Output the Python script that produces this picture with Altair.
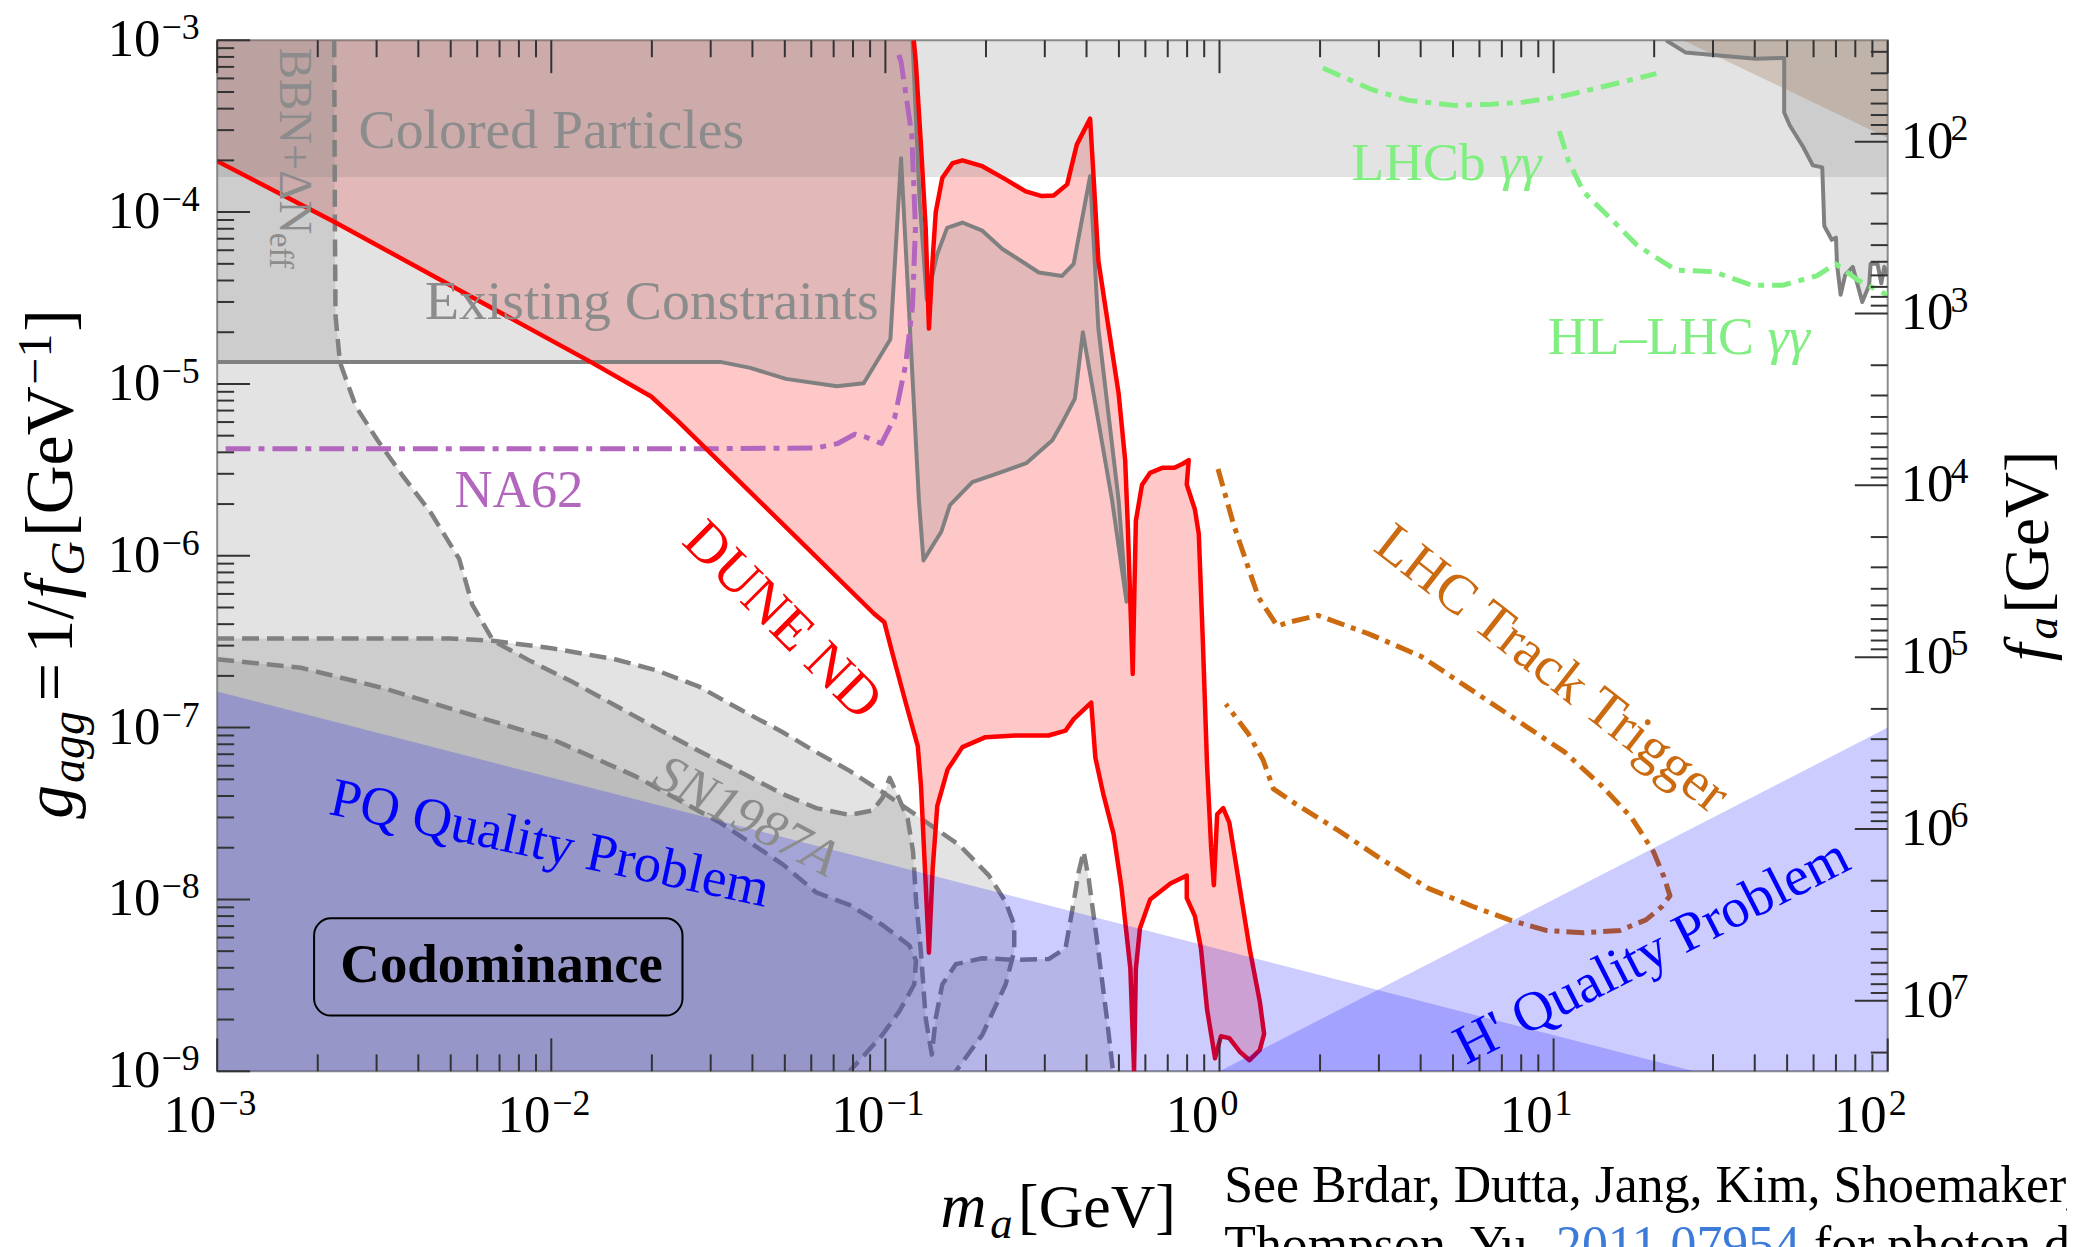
import altair as alt
import pandas as pd

FONT = "Liberation Serif"
W, H = 1677, 1035
PAD = {"left": 210, "top": 30, "right": 180, "bottom": 174}

# ---------------- data (m_a [GeV], g_agg [GeV^-1]) ----------------
DUNE_ND = [
    (0.1216, 1.0e-3), (0.1233, 7.5e-4), (0.1277, 2.5e-4), (0.132, 8.1e-5), (0.135, 2.1e-5),
    (0.1384, 5.2e-5), (0.1415, 1.0e-4), (0.148, 1.58e-4), (0.159, 1.93e-4), (0.170, 2.0e-4),
    (0.195, 1.85e-4), (0.229, 1.55e-4), (0.263, 1.32e-4), (0.294, 1.24e-4), (0.319, 1.25e-4),
    (0.35, 1.45e-4), (0.374, 2.47e-4), (0.41, 3.5e-4), (0.42, 1.58e-4), (0.434, 5.2e-5),
    (0.466, 2.1e-5), (0.499, 8.8e-6), (0.522, 3.6e-6), (0.531, 1.58e-6), (0.541, 5.3e-7),
    (0.55, 2.05e-7), (0.556, 6.0e-7), (0.562, 1.6e-6), (0.586, 2.58e-6), (0.62, 3.04e-6),
    (0.674, 3.25e-6), (0.733, 3.25e-6), (0.776, 3.43e-6), (0.809, 3.6e-6), (0.798, 2.6e-6),
    (0.844, 1.86e-6), (0.867, 1.34e-6), (0.892, 3.1e-7), (0.918, 6.0e-8), (0.944, 2.0e-8),
    (0.962, 1.21e-8), (0.984, 3.13e-8), (1.026, 3.4e-8), (1.07, 2.8e-8), (1.15, 1.17e-8),
    (1.23, 5.2e-9), (1.32, 2.55e-9), (1.36, 1.65e-9), (1.32, 1.33e-9), (1.23, 1.16e-9),
    (1.15, 1.3e-9), (1.07, 1.56e-9), (1.01, 1.6e-9), (0.97, 1.19e-9), (0.918, 2.29e-9),
    (0.88, 5.2e-9), (0.844, 8.0e-9), (0.798, 1.02e-8), (0.798, 1.38e-8), (0.713, 1.24e-8),
    (0.62, 1.0e-8), (0.578, 6.8e-9), (0.562, 3.95e-9), (0.555, 1.0e-9), (0.541, 3.95e-9),
    (0.509, 1.17e-8), (0.482, 2.4e-8), (0.449, 4.1e-8), (0.425, 6.7e-8), (0.413, 1.4e-7),
    (0.366, 1.12e-7), (0.346, 9.6e-8), (0.308, 9.0e-8), (0.245, 9.0e-8), (0.1995, 8.8e-8),
    (0.170, 7.7e-8), (0.1535, 5.7e-8), (0.143, 3.5e-8), (0.1385, 1.5e-8), (0.135, 4.9e-9),
    (0.1306, 1.9e-8), (0.1278, 4.6e-8), (0.125, 7.8e-8), (0.115, 1.4e-7), (0.105, 2.7e-7),
    (0.0993, 4.1e-7), (0.0925, 4.6e-7), (0.0239, 6.1e-6), (0.0199, 8.45e-6), (0.01315, 1.34e-5),
    (2.26e-3, 8.7e-5), (1.0e-3, 1.98e-4),
]

EXISTING = [
    (1.0e-3, 1.34e-5), (0.0323, 1.34e-5), (0.0394, 1.24e-5), (0.0504, 1.07e-5), (0.0716, 9.7e-6),
    (0.0861, 1.01e-5), (0.1035, 1.82e-5), (0.1114, 2.06e-4), (0.126, 2.1e-6), (0.130, 9.4e-7),
    (0.147, 1.38e-6), (0.156, 1.97e-6), (0.182, 2.68e-6), (0.219, 3.04e-6), (0.264, 3.46e-6),
    (0.316, 4.7e-6), (0.336, 5.8e-6), (0.369, 8.2e-6), (0.39, 2.0e-5), (0.477, 2.1e-6),
    (0.527, 5.4e-7), (0.499, 2.1e-6), (0.434, 2.1e-5), (0.41, 1.62e-4), (0.366, 5.0e-5),
    (0.338, 4.25e-5), (0.288, 4.45e-5), (0.251, 5.3e-5), (0.224, 6.1e-5), (0.195, 7.8e-5),
    (0.170, 8.7e-5), (0.153, 8.1e-5), (0.143, 5.7e-5), (0.133, 3.1e-5), (0.1265, 1.2e-4),
    (0.1205, 1.0e-3),
]

EXISTING_HIGH = [
    (21.7, 1.0e-3), (24.8, 8.5e-4), (40.2, 7.8e-4), (49.0, 7.9e-4), (49.0, 3.8e-4), (50.9, 3.2e-4),
    (55.8, 2.4e-4), (59.7, 1.87e-4), (63.7, 1.82e-4), (64.6, 8.3e-5), (68.0, 6.9e-5), (70.0, 7.1e-5),
    (70.5, 5.0e-5), (72.3, 3.3e-5), (74.6, 4.3e-5), (78.6, 4.8e-5), (83.9, 3.0e-5), (88.0, 3.75e-5),
    (88.9, 5.0e-5), (93.2, 5.0e-5), (95.7, 3.85e-5), (97.7, 4.8e-5), (100.0, 4.3e-5),
]

BROWN_CORNER = [(24.4, 1.0e-3), (100.0, 1.0e-3), (100.0, 2.7e-4)]

COLORED_BAND = {"m": 1e-3, "m2": 1e2, "g": 1.6e-4, "g2": 1e-3}

BBN = [
    (2.24e-3, 1.0e-3), (2.25e-3, 1.0e-4), (2.26e-3, 2.5e-5), (2.33e-3, 1.34e-5), (2.6e-3, 7.4e-6),
    (3.02e-3, 4.7e-6), (3.57e-3, 2.97e-6), (4.36e-3, 1.78e-6), (5.3e-3, 9.6e-7), (5.8e-3, 5.2e-7),
    (6.7e-3, 3.2e-7), (8.7e-3, 2.43e-7), (0.0116, 1.84e-7), (0.0155, 1.35e-7), (0.0207, 9.9e-8),
    (0.0277, 7.3e-8), (0.0369, 5.5e-8), (0.0493, 4.1e-8), (0.0621, 3.4e-8), (0.0782, 3.1e-8),
    (0.0917, 3.3e-8), (0.098, 3.9e-8), (0.103, 5.1e-8), (0.109, 4.0e-8), (0.1166, 2.95e-8),
    (0.121, 1.9e-8), (0.1236, 9.7e-9), (0.1277, 5.0e-9), (0.132, 2.04e-9), (0.1377, 1.25e-9),
    (0.1415, 2.04e-9), (0.148, 3.2e-9), (0.1625, 4.2e-9), (0.195, 4.55e-9), (0.245, 4.45e-9),
    (0.308, 4.5e-9), (0.346, 5.2e-9), (0.362, 8.5e-9), (0.379, 1.45e-8), (0.392, 1.9e-8),
    (0.406, 1.32e-8), (0.434, 5.0e-9), (0.46, 2.04e-9), (0.48, 1.0e-9),
]

SN_A = [
    (1.0e-3, 3.3e-7), (5.0e-3, 3.3e-7), (6.7e-3, 3.2e-7), (0.010, 2.9e-7), (0.0155, 2.5e-7),
    (0.0207, 2.15e-7), (0.0277, 1.73e-7), (0.0369, 1.27e-7), (0.0493, 9.4e-8), (0.0621, 7.2e-8),
    (0.0782, 5.6e-8), (0.0983, 4.2e-8), (0.1235, 3.1e-8), (0.1665, 2.07e-8), (0.204, 1.38e-8),
    (0.229, 9.7e-9), (0.243, 7.1e-9), (0.243, 5.0e-9), (0.229, 3.2e-9), (0.195, 1.63e-9),
    (0.1625, 1.0e-9),
]

SN_B = [
    (1.0e-3, 2.5e-7), (1.78e-3, 2.23e-7), (3.17e-3, 1.69e-7), (5.65e-3, 1.2e-7), (0.010, 8.6e-8),
    (0.0179, 5.2e-8), (0.032, 2.8e-8), (0.0493, 1.6e-8), (0.062, 1.1e-8), (0.078, 9.3e-9),
    (0.098, 7.1e-9), (0.118, 5.4e-9), (0.1235, 4.4e-9), (0.122, 3.2e-9), (0.110, 2.23e-9),
    (0.098, 1.63e-9), (0.0835, 1.15e-9), (0.078, 1.0e-9),
]

NA62 = [
    (1.06e-3, 4.2e-6), (0.030, 4.2e-6), (0.062, 4.24e-6), (0.072, 4.5e-6), (0.081, 5.1e-6),
    (0.0875, 4.9e-6), (0.0973, 4.5e-6), (0.1067, 6.4e-6), (0.115, 1.3e-5), (0.1205, 2.8e-5),
    (0.123, 8.0e-5), (0.120, 2.8e-4), (0.1114, 7.5e-4), (0.109, 8.5e-4),
]

LHC_TRACK = [
    (0.99, 3.2e-6), (1.1, 1.54e-6), (1.22, 8.5e-7), (1.31, 5.7e-7), (1.49, 3.9e-7), (1.61, 4.1e-7),
    (1.97, 4.5e-7), (2.81, 3.5e-7), (4.01, 2.6e-7), (5.44, 1.75e-7), (7.38, 1.18e-7), (10.8, 7.2e-8),
    (13.9, 4.6e-8), (17.1, 3.0e-8), (19.9, 1.9e-8), (21.4, 1.35e-8), (22.3, 1.05e-8), (21.1, 9.1e-9),
    (18.9, 7.6e-9), (15.8, 6.6e-9), (12.3, 6.4e-9), (9.5, 6.6e-9), (7.38, 7.6e-9), (5.73, 9.1e-9),
    (4.22, 1.16e-8), (3.03, 1.73e-8), (2.24, 2.56e-8), (1.69, 3.6e-8), (1.45, 4.4e-8), (1.35, 6.5e-8),
    (1.22, 9.2e-8), (1.045, 1.37e-7),
]

LHCB = [
    (2.04, 6.9e-4), (2.83, 5.2e-4), (3.68, 4.47e-4), (5.05, 4.18e-4), (6.56, 4.25e-4),
    (8.1, 4.36e-4), (10.5, 4.7e-4), (13.7, 5.3e-4), (20.3, 6.4e-4),
]

HL_LHC = [
    (10.4, 2.96e-4), (11.1, 1.97e-4), (12.3, 1.31e-4), (14.8, 9.2e-5), (17.8, 6.4e-5), (23.2, 4.6e-5),
    (30.1, 4.5e-5), (39.2, 3.75e-5), (48.4, 3.75e-5), (61.3, 4.26e-5), (69.8, 5.0e-5), (81.7, 4.0e-5),
    (99.6, 3.3e-5),
]

PQ_QUALITY = [(1.0e-3, 1.62e-7), (26.3, 1.0e-9), (1.0e-3, 1.0e-9)]
HP_QUALITY = [(1.0, 1.0e-9), (100.0, 1.0e-7), (100.0, 1.0e-9)]

# axes
X_MAJOR = [1e-3, 1e-2, 1e-1, 1e0, 1e1, 1e2]
X_EXP = ["\u22123", "\u22122", "\u22121", "0", "1", "2"]
Y_MAJOR = [1e-9, 1e-8, 1e-7, 1e-6, 1e-5, 1e-4, 1e-3]
Y_EXP = ["\u22129", "\u22128", "\u22127", "\u22126", "\u22125", "\u22124", "\u22123"]
FA_MAJOR = [1e2, 1e3, 1e4, 1e5, 1e6, 1e7]
FA_EXP = ["2", "3", "4", "5", "6", "7"]
MINOR_K = [2, 3, 4, 5, 6, 7, 8, 9]
FA_PER_G = 0.0257  # f_a * g_agg relation of the right-hand axis

# ---------------- helpers ----------------
xs = alt.Scale(type="log", domain=[1e-3, 1e2])
ys = alt.Scale(type="log", domain=[1e-9, 1e-3])
fas = alt.Scale(type="log", domain=[FA_PER_G / 1e-3, FA_PER_G / 1e-9], reverse=True)


def XE():
    return alt.X("m:Q", scale=xs, axis=None)


def YE():
    return alt.Y("g:Q", scale=ys, axis=None)


def pdf(pts):
    return pd.DataFrame({"m": [p[0] for p in pts], "g": [p[1] for p in pts], "i": list(range(len(pts)))})


def fill(pts, color, op):
    return alt.Chart(pdf(pts)).mark_line(
        fill=color, fillOpacity=op, stroke=color, strokeOpacity=0, strokeWidth=0, clip=True
    ).encode(x=XE(), y=YE(), order="i:Q")


def line(pts, color, width, dash=None):
    kw = {}
    if dash:
        kw["strokeDash"] = dash
    return alt.Chart(pdf(pts)).mark_line(
        color=color, strokeWidth=width, clip=True, strokeJoin="round", **kw
    ).encode(x=XE(), y=YE(), order="i:Q")


def dtext(m, g, s, size, color, angle=0, align="center", baseline="middle", style="normal",
          weight="normal", dx=0, dy=0):
    df = pd.DataFrame({"m": [m], "g": [g], "t": [s]})
    return alt.Chart(df).mark_text(
        font=FONT, fontSize=size, color=color, angle=angle, align=align, baseline=baseline,
        fontStyle=style, fontWeight=weight, dx=dx, dy=dy
    ).encode(x=XE(), y=YE(), text="t:N")


def ptext(x, y, s, size, color="black", angle=0, align="left", baseline="alphabetic",
          style="normal", dx=0, dy=0):
    df = pd.DataFrame({"t": [s]})
    return alt.Chart(df).mark_text(
        font=FONT, fontSize=size, color=color, angle=angle, align=align, baseline=baseline,
        fontStyle=style, dx=dx, dy=dy
    ).encode(x=alt.value(x), y=alt.value(y), text="t:N")


TW = {" ": .25, "+": .564, "=": .564, "\u2212": .564, "\u2013": .5, "/": .278, ",": .25, ".": .25,
      "'": .18, "[": .333, "]": .333, "A": .722, "B": .667, "C": .667, "D": .722, "E": .611,
      "G": .722, "H": .722, "J": .389, "K": .722, "L": .611, "N": .722, "P": .556, "Q": .722,
      "S": .556, "T": .611, "U": .722, "V": .722, "Y": .722, "\u0394": .612, "a": .444, "b": .5,
      "c": .444, "d": .5, "e": .444, "f": .333, "g": .5, "h": .5, "i": .278, "k": .5, "l": .278,
      "m": .778, "n": .5, "o": .5, "p": .5, "r": .333, "s": .389, "t": .278, "u": .5, "y": .5,
      "\u03b3": .41}


def tw(s, size):
    return sum(TW.get(c, .5) for c in s) * size


def pieces(x, y, parts, angle=0, color="black"):
    # parts: (text, style, size, baseline shift, offset along the text direction)
    return [ptext(x, y, t, sz, color, angle, "left", "alphabetic", st, dx=off, dy=sh)
            for t, st, sz, sh, off in parts]


RED, GRAY, BLUE = "#ff0000", "#808080", "#0000ff"
TXTGRAY = "#8c8c8c"
PURPLE, ORANGE, GREEN = "#b266bd", "#cc6a10", "#80ee80"
TICK = "#333333"

# ---------------- layers ----------------
band_df = pd.DataFrame([COLORED_BAND])
band = alt.Chart(band_df).mark_rect(fill=GRAY, fillOpacity=0.22).encode(
    x=XE(), x2="m2:Q", y=YE(), y2="g2:Q")

corner = [(1e-3, 1e-3)]
bottom_left = [(1e-3, 1e-9)]

layers = [
    fill(corner + DUNE_ND, RED, 0.215),
    band,
    fill(corner + EXISTING, GRAY, 0.22),
    fill(EXISTING_HIGH + [(100.0, 1e-3)], GRAY, 0.22),
    fill(corner + BBN + bottom_left, GRAY, 0.22),
    fill(SN_A + bottom_left, GRAY, 0.22),
    fill(SN_B + bottom_left, GRAY, 0.22),
    fill(BROWN_CORNER, "#a0785a", 0.3),
    line(EXISTING, GRAY, 4),
    line(EXISTING_HIGH, GRAY, 4),
    line(BBN, GRAY, 4.5, [17, 8]),
    line(SN_A, GRAY, 4.5, [17, 8]),
    line(SN_B, GRAY, 4.5, [17, 8]),
    line(NA62, PURPLE, 5, [25, 8, 6, 8]),
    line(DUNE_ND, RED, 4.5),
    line(LHC_TRACK, ORANGE, 5, [18, 7, 5, 7]),
    line(LHCB, GREEN, 5, [19, 8, 6, 8]),
    line(HL_LHC, GREEN, 5, [19, 8, 6, 8]),
    fill(PQ_QUALITY, BLUE, 0.2),
    fill(HP_QUALITY, BLUE, 0.2),
]

# labels inside the plot
layers += [
    dtext(0.0100, 2.98e-4, "Colored Particles", 56, TXTGRAY),
    dtext(0.0200, 3.0e-5, "Existing Constraints", 56, TXTGRAY),
    dtext(1.54e-3, 9.05e-4, "BBN+\u0394N", 47, TXTGRAY, angle=90, align="left", baseline="alphabetic"),
    dtext(1.54e-3, 9.05e-4, "eff", 33, TXTGRAY, angle=90, align="left", baseline="alphabetic",
          dx=tw("BBN+\u0394N", 47), dy=10),
    dtext(8.0e-3, 2.37e-6, "NA62", 53, PURPLE),
    dtext(0.0491, 4.2e-7, "DUNE ND", 57, RED, angle=45),
    dtext(0.0383, 3.04e-8, "SN1987A", 53, TXTGRAY, angle=28, style="italic"),
    dtext(9.9e-3, 2.11e-8, "PQ Quality Problem", 55, BLUE, angle=12),
    dtext(9.9, 2.19e-7, "LHC Track Trigger", 56, ORANGE, angle=38),
    dtext(19.7, 4.97e-9, "H' Quality Problem", 56, BLUE, angle=333),
    dtext(2.48, 1.53e-4, "LHCb", 54, GREEN, align="left", baseline="alphabetic"),
    dtext(2.48, 1.53e-4, "\u03b3\u03b3", 54, GREEN, align="left", baseline="alphabetic",
          style="italic", dx=tw("LHCb ", 54)),
    dtext(9.61, 1.49e-5, "HL\u2013LHC", 54, GREEN, align="left", baseline="alphabetic"),
    dtext(9.61, 1.49e-5, "\u03b3\u03b3", 54, GREEN, align="left", baseline="alphabetic",
          style="italic", dx=tw("HL\u2013LHC ", 54)),
]

box_df = pd.DataFrame({"m": [1.95e-3], "m2": [0.0247], "g": [7.76e-9], "g2": [2.11e-9]})
layers.append(alt.Chart(box_df).mark_rect(fill="white", fillOpacity=0, stroke="black", strokeWidth=2,
                                          cornerRadius=17).encode(x=XE(), x2="m2:Q", y=YE(), y2="g2:Q"))
layers.append(dtext(7.1e-3, 4.14e-9, "Codominance", 55, "black", weight="bold"))

# ticks (inward)
x_minor = [k * d for d in X_MAJOR[:-1] for k in MINOR_K]
y_minor = [k * d for d in Y_MAJOR[:-1] for k in MINOR_K]


def xticks(vals, length, top=False):
    y0, y1 = (0, length) if top else (H, H - length)
    return alt.Chart(pd.DataFrame({"m": vals})).mark_rule(color=TICK, strokeWidth=2).encode(
        x=XE(), y=alt.value(y0), y2=alt.value(y1))


def yticks(vals, length):
    return alt.Chart(pd.DataFrame({"g": vals})).mark_rule(color=TICK, strokeWidth=2).encode(
        y=YE(), x=alt.value(0), x2=alt.value(length))


layers += [xticks(X_MAJOR, 33), xticks(x_minor, 17), xticks(X_MAJOR, 33, True), xticks(x_minor, 17, True),
           yticks(Y_MAJOR, 33), yticks(y_minor, 17)]

# tick labels
xl = pd.DataFrame({"m": X_MAJOR, "b": ["10"] * len(X_MAJOR), "e": X_EXP})
layers.append(alt.Chart(xl).mark_text(font=FONT, fontSize=53, align="right", baseline="middle", dx=-1)
              .encode(x=XE(), y=alt.value(H + 45), text="b:N"))
layers.append(alt.Chart(xl).mark_text(font=FONT, fontSize=36, align="left", baseline="middle", dx=1)
              .encode(x=XE(), y=alt.value(H + 33), text="e:N"))
yl = pd.DataFrame({"g": Y_MAJOR, "b": ["10"] * len(Y_MAJOR), "e": Y_EXP})
layers.append(alt.Chart(yl).mark_text(font=FONT, fontSize=53, align="right", baseline="middle")
              .encode(y=YE(), x=alt.value(-57), text="b:N"))
layers.append(alt.Chart(yl).mark_text(font=FONT, fontSize=36, align="left", baseline="middle", dx=1, dy=-12)
              .encode(y=YE(), x=alt.value(-57), text="e:N"))

# axis titles (pieces for sub/superscripts), offsets along the reading direction
layers += pieces(-146, 781.5, [
    ("g", "italic", 68, 0, 0), ("agg", "italic", 48, 12, 36), ("=", "normal", 68, 0, 118),
    ("1", "normal", 68, 0, 166), ("/", "normal", 68, 0, 200), ("f", "italic", 68, 0, 221),
    ("G", "italic", 48, 12, 244), ("[GeV", "normal", 68, 0, 283), ("\u22121", "normal", 48, -21, 436),
    ("]", "normal", 68, 0, 489)], angle=270)
layers += pieces(726, 1191, [
    ("m", "italic", 64, 0, 0), ("a", "italic", 45, 11, 50), ("[GeV]", "normal", 62, 0, 78)])
layers += pieces(1838, 623.5, [
    ("f", "italic", 64, 0, 0), ("a", "italic", 45, 9, 22), ("[GeV]", "normal", 64, 0, 48)], angle=270)

# citation text below the plot (cut by the page edge, as in the original slide)
layers.append(ptext(1011, 1166.5, "See Brdar, Dutta, Jang, Kim, Shoemaker, Tabrizi,", 52))
layers += pieces(1011, 1226.5, [("Thompson, Yu,", "normal", 52, 0, 0),
                                 ("for photon dominance", "normal", 52, 0, 592)])
layers.append(ptext(1011, 1226.5, "2011.07954", 52, "#3d7bd9", dx=333))

main = alt.layer(*layers)

# right-hand f_a axis (independent scale)
fa_minor = [k * d for d in [10.0] + FA_MAJOR for k in MINOR_K
            if FA_PER_G / 1e-3 < k * d < FA_PER_G / 1e-9]


def faticks(vals, length):
    return alt.Chart(pd.DataFrame({"fa": vals})).mark_rule(color=TICK, strokeWidth=2).encode(
        y=alt.Y("fa:Q", scale=fas, axis=None), x=alt.value(W), x2=alt.value(W - length))


fl = pd.DataFrame({"fa": FA_MAJOR, "b": ["10"] * len(FA_MAJOR), "e": FA_EXP})
right = alt.layer(
    faticks(FA_MAJOR, 33), faticks(fa_minor, 17),
    alt.Chart(fl).mark_text(font=FONT, fontSize=53, align="left", baseline="middle")
    .encode(y=alt.Y("fa:Q", scale=fas, axis=None), x=alt.value(W + 13), text="b:N"),
    alt.Chart(fl).mark_text(font=FONT, fontSize=36, align="left", baseline="middle", dx=50, dy=-13)
    .encode(y=alt.Y("fa:Q", scale=fas, axis=None), x=alt.value(W + 13), text="e:N"),
)

chart = alt.layer(main, right).resolve_scale(y="independent").properties(
    width=W, height=H, padding=PAD, autosize=alt.AutoSizeParams(type="none")
).configure_view(stroke="#8c8c8c", strokeWidth=2)

chart.save("out.html", embed_options={"renderer": "svg", "actions": False})
